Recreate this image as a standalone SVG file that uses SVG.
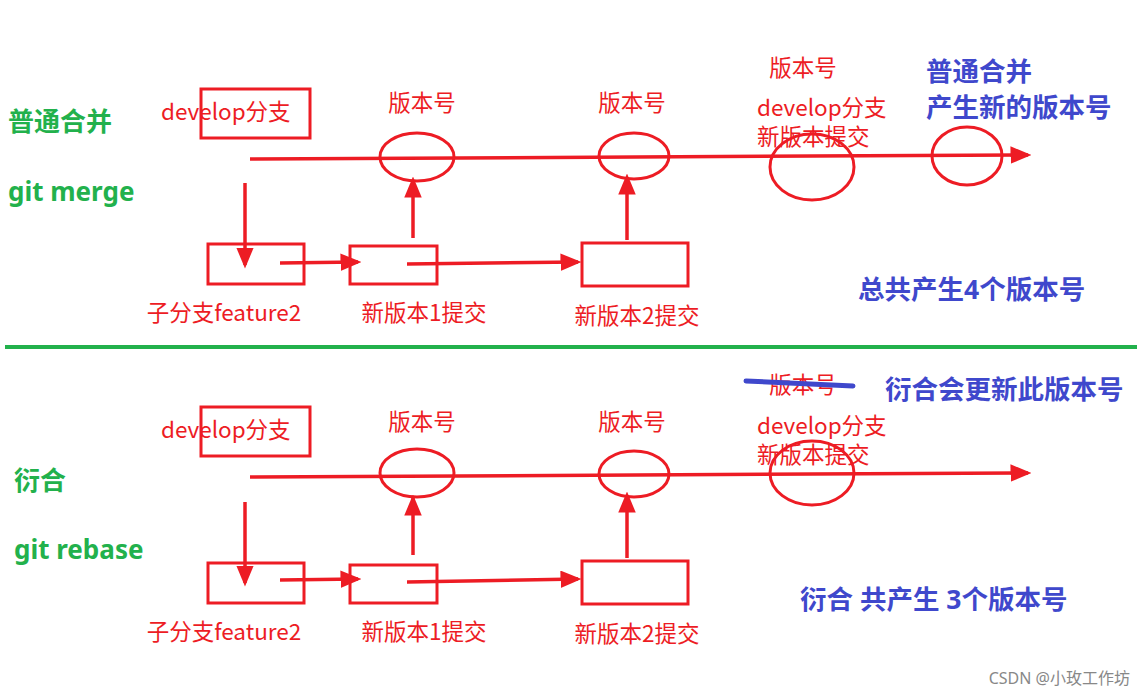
<svg xmlns="http://www.w3.org/2000/svg" width="1145" height="696" viewBox="0 0 1145 696">
<style>
.r{fill:#ED1C24;font-family:"Microsoft YaHei","Noto Sans CJK SC",sans-serif;font-size:22.5px}
.g{fill:#22B14C;font-family:"Noto Sans","Noto Sans CJK SC",sans-serif;font-size:26px;font-weight:bold}
.b{fill:#3F48CC;font-family:"Noto Sans","Noto Sans CJK SC",sans-serif;font-size:26.5px;font-weight:bold}
.c{text-anchor:middle}
.s{fill:none;stroke:#ED1C24;stroke-width:3}
.l{stroke:#ED1C24;stroke-width:3.5;fill:none}
</style>
<defs><marker id="a" markerWidth="6" markerHeight="5" refX="5" refY="2.5" orient="auto" markerUnits="strokeWidth"><path d="M0,0L6,2.5L0,5z" fill="#ED1C24"/></marker></defs>
<g id="labels">
<text class="g" x="8" y="131">普通合并</text>
<text class="g" x="8" y="201">git merge</text>
<text class="g" x="14" y="490">衍合</text>
<text class="g" x="14" y="559">git rebase</text>
<text class="b" x="926" y="81">普通合并</text>
<text class="b" x="926" y="117">产生新的版本号</text>
<text class="b" x="858" y="299">总共产生4个版本号</text>
<text class="b" x="885" y="399">衍合会更新此版本号</text>
<text class="b" x="800" y="609">衍合 共产生 3个版本号</text>
<text x="1130" y="684" text-anchor="end" font-family="Noto Sans,Noto Sans CJK SC,sans-serif" font-size="16" fill="#888">CSDN @小玫工作坊</text>
</g>
<rect x="5" y="345" width="1132" height="4" fill="#22B14C"/>
<g id="n_dev1"><rect class="s" x="201" y="89" width="109" height="49"/><text class="r" x="161" y="120">develop分支</text></g>
<g id="n_dev2"><rect class="s" x="201" y="407" width="109" height="49"/><text class="r" x="161" y="438">develop分支</text></g>
<g id="n_v1"><ellipse class="s" cx="417" cy="157" rx="37" ry="24"/><text class="r c" x="422" y="111">版本号</text></g>
<g id="n_v2"><ellipse class="s" cx="634" cy="156" rx="35" ry="23"/><text class="r c" x="632" y="111">版本号</text></g>
<g id="n_v3"><ellipse class="s" cx="812" cy="167" rx="42" ry="33"/><text class="r c" x="803" y="76">版本号</text><text class="r" x="757" y="116">develop分支</text><text class="r" x="757" y="145">新版本提交</text></g>
<g id="n_v4"><ellipse class="s" cx="967" cy="156" rx="35" ry="29"/></g>
<g id="n_v5"><ellipse class="s" cx="417" cy="473" rx="37" ry="24"/><text class="r c" x="422" y="430">版本号</text></g>
<g id="n_v6"><ellipse class="s" cx="634" cy="474" rx="35" ry="23"/><text class="r c" x="632" y="430">版本号</text></g>
<g id="n_v7"><ellipse class="s" cx="812" cy="473" rx="42" ry="32"/><text class="r c" x="803" y="393">版本号</text><line x1="746" y1="381" x2="853" y2="386" stroke="#3F48CC" stroke-width="5" stroke-linecap="round"/><text class="r" x="757" y="434">develop分支</text><text class="r" x="757" y="463">新版本提交</text></g>
<g id="n_f1"><rect class="s" x="208" y="244" width="96" height="40"/><text class="r c" x="224" y="321">子分支feature2</text></g>
<g id="n_c1"><rect class="s" x="350" y="246" width="87" height="38"/><text class="r c" x="424" y="321">新版本1提交</text></g>
<g id="n_c2"><rect class="s" x="582" y="243" width="106" height="43"/><text class="r c" x="637" y="324">新版本2提交</text></g>
<g id="n_f2"><rect class="s" x="208" y="563" width="96" height="40"/><text class="r c" x="224" y="640">子分支feature2</text></g>
<g id="n_c3"><rect class="s" x="350" y="565" width="87" height="38"/><text class="r c" x="424" y="640">新版本1提交</text></g>
<g id="n_c4"><rect class="s" x="582" y="561" width="106" height="43"/><text class="r c" x="637" y="642">新版本2提交</text></g>
<g id="connectors">
<line class="l" x1="250" y1="159" x2="1028" y2="155" marker-end="url(#a)"/>
<line class="l" x1="245" y1="183" x2="245" y2="265" marker-end="url(#a)"/>
<line class="l" x1="280" y1="263" x2="358" y2="262" marker-end="url(#a)"/>
<line class="l" x1="407" y1="264" x2="578" y2="262" marker-end="url(#a)"/>
<line class="l" x1="413" y1="238" x2="413" y2="180" marker-end="url(#a)"/>
<line class="l" x1="627" y1="240" x2="627" y2="177" marker-end="url(#a)"/>
<line class="l" x1="250" y1="477" x2="1028" y2="473" marker-end="url(#a)"/>
<line class="l" x1="245" y1="502" x2="245" y2="583" marker-end="url(#a)"/>
<line class="l" x1="280" y1="580" x2="358" y2="579" marker-end="url(#a)"/>
<line class="l" x1="407" y1="582" x2="578" y2="579" marker-end="url(#a)"/>
<line class="l" x1="413" y1="555" x2="413" y2="498" marker-end="url(#a)"/>
<line class="l" x1="627" y1="558" x2="627" y2="495" marker-end="url(#a)"/>
</g>
</svg>
